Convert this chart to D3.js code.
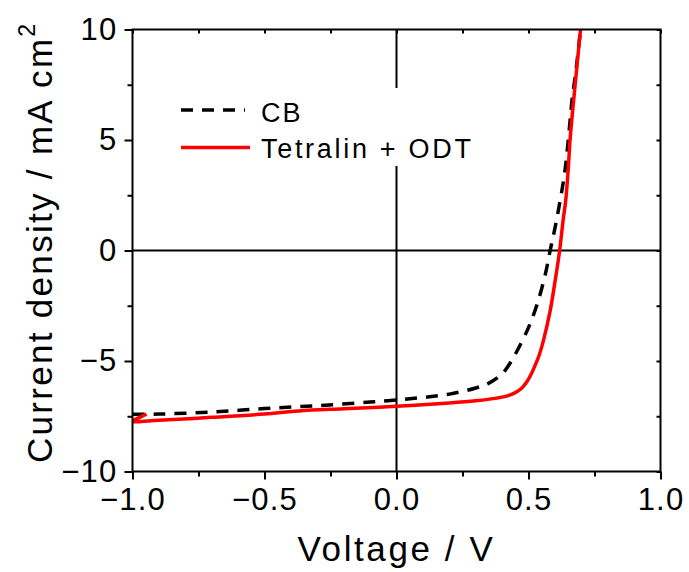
<!DOCTYPE html>
<html>
<head>
<meta charset="utf-8">
<script src="https://cdn.jsdelivr.net/npm/d3@7"></script>
<style>
  body { margin: 0; background: #fff; }
  svg text { font-family: "Liberation Sans", Arial, sans-serif; fill: #000; }
</style>
</head>
<body>
<div id="chart"></div>
<script>
// J-V curves
const cbV = [-1.0, -0.9, -0.7, -0.5, -0.3, -0.1, 0.0, 0.1, 0.2, 0.3, 0.35, 0.40, 0.43, 0.46, 0.49, 0.51, 0.537, 0.564, 0.582, 0.601, 0.620, 0.638, 0.656, 0.665, 0.677, 0.688, 0.697];
const cbJ = [-7.41, -7.40, -7.31, -7.15, -7.02, -6.86, -6.76, -6.65, -6.50, -6.22, -6.0, -5.58, -5.1, -4.47, -3.75, -3.2, -2.27, -1.06, 0, 1.06, 2.27, 3.6, 5.68, 6.82, 7.88, 9.0, 10];
const odtV = [-0.947, -0.985, -1.0, -0.9, -0.7, -0.5, -0.37, -0.2, 0.0, 0.2, 0.3, 0.38, 0.42, 0.45, 0.475, 0.495, 0.51, 0.525, 0.54, 0.556, 0.582, 0.601, 0.618, 0.631, 0.641, 0.650, 0.658, 0.68, 0.697];
const odtJ = [-7.40, -7.62, -7.73, -7.68, -7.55, -7.40, -7.26, -7.16, -7.05, -6.90, -6.80, -6.68, -6.58, -6.43, -6.22, -5.92, -5.60, -5.20, -4.75, -4.10, -2.73, -1.36, 0, 1.36, 2.27, 3.6, 5.09, 7.9, 10];
const xMajor = [-1.0, -0.5, 0.0, 0.5, 1.0];
const xMinor = [-0.75, -0.25, 0.25, 0.75];
const yMajor = [-10, -5, 0, 5, 10];
const yMinor = [-7.5, -2.5, 2.5, 7.5];
const seriesNames = ['CB', 'Tetralin + ODT'];

const width = 689, height = 572;
const margin = { top: 29.5, right: 28.5, bottom: 100.5, left: 132.5 };

const svg = d3.select('#chart').append('svg')
    .attr('width', width)
    .attr('height', height);

const x = d3.scaleLinear().domain([-1, 1]).range([margin.left, width - margin.right]);
const y = d3.scaleLinear().domain([-10, 10]).range([height - margin.bottom, margin.top]);

svg.append('clipPath').attr('id', 'clip')
    .append('rect')
    .attr('x', x(-1)).attr('y', y(10))
    .attr('width', x(1) - x(-1)).attr('height', y(-10) - y(10));

// zero lines
svg.append('line')
    .attr('x1', x(-1)).attr('x2', x(1))
    .attr('y1', y(0)).attr('y2', y(0))
    .attr('stroke', '#000').attr('stroke-width', 2);
svg.append('line')
    .attr('x1', x(0)).attr('x2', x(0))
    .attr('y1', y(10)).attr('y2', y(-10))
    .attr('stroke', '#000').attr('stroke-width', 2);

const line = d3.line()
    .x(d => x(d[0]))
    .y(d => y(d[1]))
    .curve(d3.curveCatmullRom.alpha(0.5));

const cb = cbV.map((v, i) => [v, cbJ[i]]);
const odt = odtV.map((v, i) => [v, odtJ[i]]);

const plot = svg.append('g').attr('clip-path', 'url(#clip)');
plot.append('path')
    .datum(cb)
    .attr('d', line)
    .attr('fill', 'none')
    .attr('stroke', '#000')
    .attr('stroke-width', 3.5)
    .attr('stroke-dasharray', '12,9');
plot.append('path')
    .datum(odt)
    .attr('d', line)
    .attr('fill', 'none')
    .attr('stroke', '#ff0000')
    .attr('stroke-width', 3.5);

// legend
svg.append('rect')
    .attr('x', 168).attr('y', 88)
    .attr('width', 315).attr('height', 78)
    .attr('fill', '#fff');
svg.append('line')
    .attr('x1', 181).attr('x2', 245).attr('y1', 110).attr('y2', 110)
    .attr('stroke', '#000').attr('stroke-width', 3.5)
    .attr('stroke-dasharray', '12,9');
svg.append('line')
    .attr('x1', 181).attr('x2', 250).attr('y1', 147.5).attr('y2', 147.5)
    .attr('stroke', '#ff0000').attr('stroke-width', 3.5);
svg.append('text')
    .attr('x', 261).attr('y', 122)
    .style('font-size', '27px').style('letter-spacing', '2px')
    .text(seriesNames[0]);
svg.append('text')
    .attr('x', 261).attr('y', 158)
    .style('font-size', '27px').style('letter-spacing', '2.7px')
    .text(seriesNames[1]);

// axes
function styleAxis(g) {
    g.select('.domain').remove();
    g.selectAll('line').attr('stroke', '#000').attr('stroke-width', 2);
    g.selectAll('text').style('font-size', '31px').style('letter-spacing', '1.2px');
}

svg.append('g')
    .attr('transform', `translate(0,${y(-10)})`)
    .call(d3.axisBottom(x).tickValues(xMajor).tickSize(8).tickPadding(8).tickFormat(d3.format('.1f')))
    .call(styleAxis);
svg.append('g')
    .attr('transform', `translate(0,${y(-10)})`)
    .call(d3.axisBottom(x).tickValues(xMinor).tickSize(5).tickFormat(''))
    .call(styleAxis);
svg.append('g')
    .attr('transform', `translate(${x(-1)},0)`)
    .call(d3.axisLeft(y).tickValues(yMajor).tickSize(8).tickPadding(7).tickFormat(d3.format('d')))
    .call(styleAxis);
svg.append('g')
    .attr('transform', `translate(${x(-1)},0)`)
    .call(d3.axisLeft(y).tickValues(yMinor).tickSize(5).tickFormat(''))
    .call(styleAxis);
svg.append('g')
    .attr('transform', `translate(0,${y(10)})`)
    .call(d3.axisTop(x).tickValues(xMajor.concat(xMinor)).tickSize(-4).tickFormat(''))
    .call(styleAxis);
svg.append('g')
    .attr('transform', `translate(${x(1)},0)`)
    .call(d3.axisRight(y).tickValues(yMajor.concat(yMinor)).tickSize(-4).tickFormat(''))
    .call(styleAxis);

// frame
svg.append('rect')
    .attr('x', x(-1)).attr('y', y(10))
    .attr('width', x(1) - x(-1)).attr('height', y(-10) - y(10))
    .attr('fill', 'none').attr('stroke', '#000').attr('stroke-width', 2);

// axis titles
svg.append('text')
    .attr('x', x(0)).attr('y', 561)
    .attr('text-anchor', 'middle')
    .style('font-size', '35px').style('letter-spacing', '2.6px')
    .text('Voltage / V');

const yTitle = svg.append('text')
    .attr('transform', 'translate(52,463) rotate(-90)')
    .attr('text-anchor', 'start')
    .style('font-size', '35px').style('letter-spacing', '2.3px');
yTitle.append('tspan').text('Current density / mA cm');
yTitle.append('tspan')
    .attr('dy', -17)
    .style('font-size', '23px')
    .text('2');
</script>
</body>
</html>
